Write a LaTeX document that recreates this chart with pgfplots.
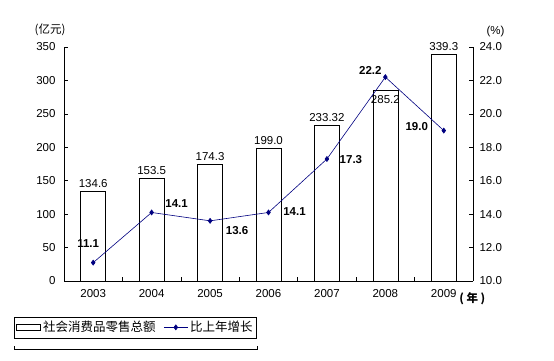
\documentclass[border=0pt]{standalone}
\usepackage{pgfplots}
\pgfplotsset{compat=1.18}
\usepackage{fontspec}
\setmainfont{Liberation Sans}
\newfontfamily\cjk{Noto Sans CJK SC}
\definecolor{navy}{RGB}{0,0,128}
\pgfplotstableread{
x y label
0 134.6 134.6
1 153.5 153.5
2 174.3 174.3
3 199.0 199.0
4 233.32 233.32
5 285.2 {}
6 339.3 339.3
}\bars
\pgfplotstableread{
x y
0 11.1
1 14.1
2 13.6
3 14.1
4 17.3
5 22.2
6 19.0
}\growth
\pgfplotsset{
  lineleg/.style={legend image code/.code={\draw[##1, mark repeat=2, mark phase=2] plot coordinates {(0pt,0pt) (12pt,0pt) (24pt,0pt)};}},
  barleg/.style={legend image code/.code={\draw[black, line width=0.6pt, fill=white] (0pt,-3pt) rectangle (24pt,3pt);}},
}
\begin{document}
\begin{tikzpicture}[font=\fontsize{11.5}{13}\selectfont]
\useasboundingbox (0,0) rectangle (554pt,360pt);
\pgfplotsset{
  common/.style={
    at={(64pt,79pt)}, anchor=south west,
    scale only axis, width=409pt, height=234pt,
    xmin=-0.5, xmax=6.5, clip=false,
    axis line style={-, black, line width=0.6pt},
    tick align=inside, major tick length=4pt,
    tick style={black, line width=0.6pt},
    /pgf/number format/assume math mode=true,
  }
}
\begin{axis}[common,
  ymin=0, ymax=350, ytick={0,50,...,350},
  axis x line*=bottom, axis y line*=left,
  xtick={0.5,1.5,...,5.5}, xticklabels={},
  extra x ticks={0,1,2,3,4,5,6},
  extra x tick labels={2003,2004,2005,2006,2007,2008,2009},
  extra x tick style={tick style={draw=none}},
  x tick label style={yshift=-5pt},
  y tick label style={xshift=-5pt},
]
\addplot[ybar, bar width=25pt, fill=white, draw=black, line width=0.6pt,
  nodes near coords, point meta=explicit symbolic,
  every node near coord/.append style={font=\fontsize{11.5}{13}\selectfont, yshift=0pt}]
  table[x=x, y=y, meta=label] {\bars};
\node[below, yshift=-2pt] at (axis cs:5,285.2) {285.2};
\node at (rel axis cs:-0.034,1.075) {{\cjk\fontsize{11.5}{13}\selectfont (亿元)}};
\node[anchor=west] at (rel axis cs:0.958,-0.075) {{\bfseries\cjk\fontsize{11.5}{13}\selectfont ( 年 )}};
\draw[black, line width=0.6pt] (rel axis cs:-0.122,-0.278) -- (rel axis cs:-0.122,-0.29) -- (rel axis cs:0.472,-0.29) -- (rel axis cs:0.472,-0.278);
\end{axis}
\begin{axis}[common,
  ymin=10, ymax=24, ytick={10,12,...,24},
  axis y line*=right, axis x line=none,
  y tick label style={xshift=3pt, /pgf/number format/fixed, /pgf/number format/fixed zerofill, /pgf/number format/precision=1},
  legend style={at={(-0.122,-0.152)}, anchor=north west, draw=black, line width=0.6pt,
    font=\cjk\fontsize{12.5}{14}\selectfont, legend columns=2,
    inner xsep=2pt, inner ysep=2.5pt, row sep=0pt,
    /tikz/every even column/.append style={column sep=6pt}},
  legend cell align=left,
]
\addlegendimage{barleg}
\addlegendentry{社会消费品零售总额}
\addplot[navy, line width=0.6pt, mark=diamond*, mark size=2.5pt, mark options={fill=navy}, lineleg]
  table[x=x, y=y] {\growth};
\addlegendentry{比上年增长}
\begin{scope}[font=\bfseries\fontsize{11.5}{13}\selectfont]
\node at (axis cs:0,11.1) [xshift=-5pt, yshift=19pt] {11.1};
\node at (axis cs:1,14.1) [xshift=25pt, yshift=9pt] {14.1};
\node at (axis cs:2,13.6) [xshift=27pt, yshift=-10pt] {13.6};
\node at (axis cs:3,14.1) [xshift=26pt, yshift=1pt] {14.1};
\node at (axis cs:4,17.3) [xshift=24pt, yshift=-1pt] {17.3};
\node at (axis cs:5,22.2) [xshift=-15pt, yshift=7pt] {22.2};
\node at (axis cs:6,19.0) [xshift=-27pt, yshift=4pt] {19.0};
\end{scope}
\node at (rel axis cs:1.055,1.065) {(\%)};
\end{axis}
\end{tikzpicture}
\end{document}
